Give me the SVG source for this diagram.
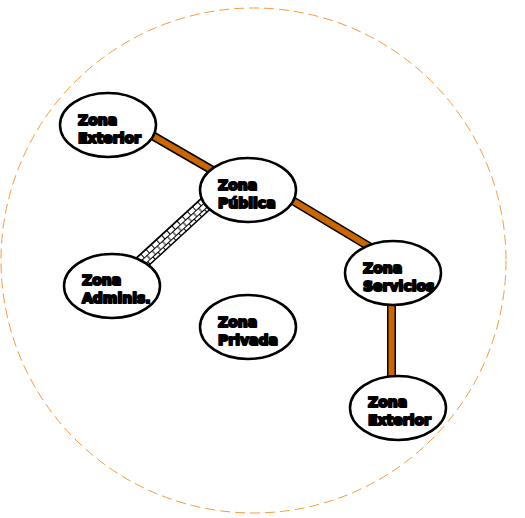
<svg xmlns="http://www.w3.org/2000/svg" width="525" height="518" viewBox="0 0 525 518">
<style>
.zone{fill:#fff;stroke:#000;stroke-width:2.5}
.lbl{font-family:"DejaVu Sans",sans-serif;font-weight:bold;font-size:14px;fill:#000;stroke:#000;stroke-width:2;stroke-linejoin:round}
.edge-o{stroke:#000;stroke-width:9;fill:none}
.edge-i{stroke:#CC6600;stroke-width:6;fill:none}
</style>
<defs>
<pattern id="brick" x="0" y="-7" width="14" height="10" patternUnits="userSpaceOnUse">
<rect width="14" height="10" fill="#fff"/>
<path d="M0 0.5H14M0 5.5H14M0.5 0.5V5.5M7.5 0.5V5.5M4 5.5V10.5M11 5.5V10.5" stroke="#000" stroke-width="1" fill="none"/>
</pattern>
</defs>
<circle cx="253.5" cy="260.5" r="252.5" fill="none" stroke="#F39C3C" stroke-width="1" stroke-dasharray="10 5"/>
<g id="connectors">
<line class="edge-o" x1="135" y1="125.5" x2="230" y2="180.5"/>
<line class="edge-i" x1="135" y1="125.5" x2="230" y2="180.5"/>
<line class="edge-o" x1="275" y1="190" x2="385" y2="256"/>
<line class="edge-i" x1="275" y1="190" x2="385" y2="256"/>
<line class="edge-o" x1="391.5" y1="290" x2="391.5" y2="395"/>
<line class="edge-i" x1="391.5" y1="290" x2="391.5" y2="395"/>
<g transform="translate(176,231) rotate(-42.5)">
<rect x="-66" y="-7" width="132" height="14" fill="url(#brick)" stroke="#000" stroke-width="1.5"/>
</g>
</g>
<g id="zona-exterior-1">
<ellipse class="zone" cx="108" cy="125" rx="48" ry="32"/>
<text class="lbl" x="78" y="125">Zona</text>
<text class="lbl" x="78" y="143">Exterior</text>
</g>
<g id="zona-publica">
<ellipse class="zone" cx="248" cy="190" rx="48" ry="32"/>
<text class="lbl" x="218" y="190">Zona</text>
<text class="lbl" x="218" y="208">Pública</text>
</g>
<g id="zona-admin">
<ellipse class="zone" cx="112" cy="286" rx="48" ry="32"/>
<text class="lbl" x="82" y="285">Zona</text>
<text class="lbl" x="82" y="303">Adminis.</text>
</g>
<g id="zona-servicios">
<ellipse class="zone" cx="393" cy="273" rx="48" ry="32"/>
<text class="lbl" x="363" y="273">Zona</text>
<text class="lbl" x="363" y="291">Servicios</text>
</g>
<g id="zona-privada">
<ellipse class="zone" cx="248" cy="327" rx="48" ry="32"/>
<text class="lbl" x="218" y="327">Zona</text>
<text class="lbl" x="218" y="345">Privada</text>
</g>
<g id="zona-exterior-2">
<ellipse class="zone" cx="398" cy="408" rx="48" ry="32"/>
<text class="lbl" x="368" y="407">Zona</text>
<text class="lbl" x="368" y="425">Exterior</text>
</g>
</svg>
